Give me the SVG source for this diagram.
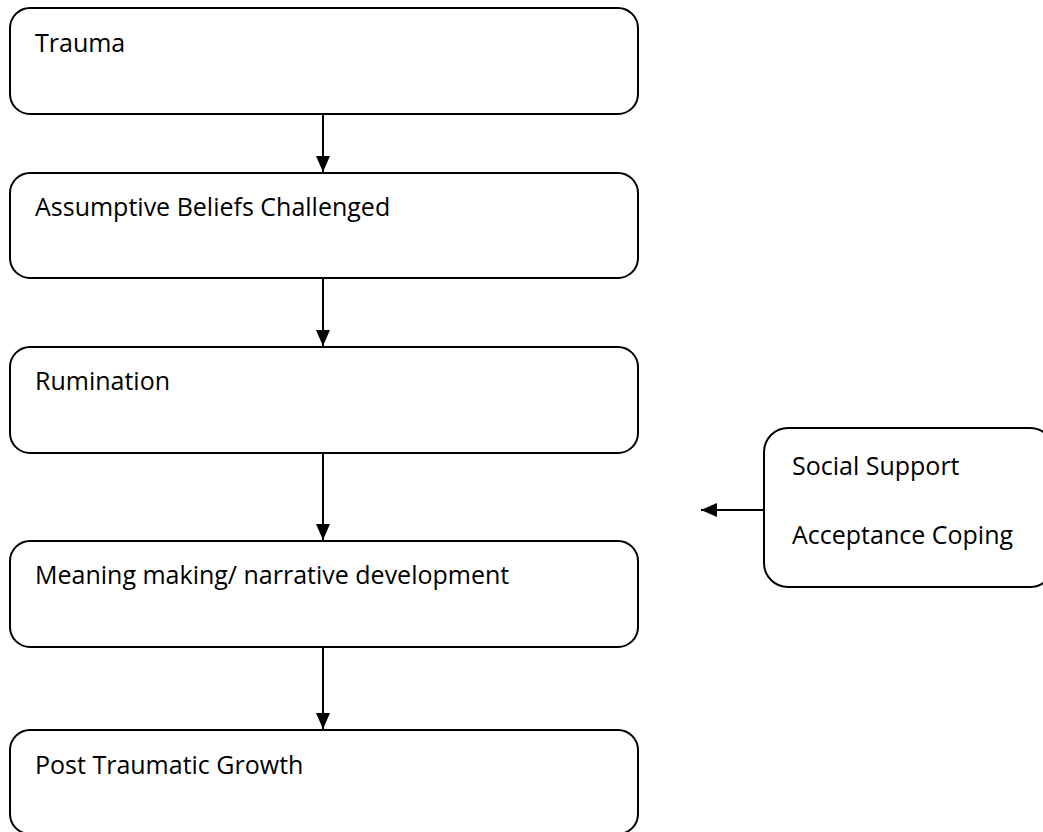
<svg xmlns="http://www.w3.org/2000/svg" width="1043" height="832" viewBox="0 0 1043 832">
<style>
.box{fill:#fff;stroke:#000;stroke-width:2}
.t{font-family:"Open Sans","Liberation Sans",sans-serif;font-size:25px;fill:#000}
.c{stroke:#000;stroke-width:2;fill:none}
</style>
<defs>
<marker id="ah" viewBox="0 0 16 14" refX="16" refY="7" markerWidth="16" markerHeight="14" markerUnits="userSpaceOnUse" orient="auto"><path d="M0,0 L16,7 L0,14 z" fill="#000"/></marker>
</defs>
<rect width="1043" height="832" fill="#fff"/>
<g id="n1"><rect class="box" x="10" y="8" width="628" height="106" rx="20"/><text class="t" x="35" y="52">Trauma</text></g>
<g id="n2"><rect class="box" x="10" y="173" width="628" height="105" rx="20"/><text class="t" x="35" y="216">Assumptive Beliefs Challenged</text></g>
<g id="n3"><rect class="box" x="10" y="347" width="628" height="106" rx="20"/><text class="t" x="35" y="390">Rumination</text></g>
<g id="n4"><rect class="box" x="10" y="541" width="628" height="106" rx="20"/><text class="t" x="35" y="584">Meaning making/ narrative development</text></g>
<g id="n5"><rect class="box" x="10" y="730" width="628" height="104" rx="20"/><text class="t" x="35" y="774">Post Traumatic Growth</text></g>
<g id="n6"><rect class="box" x="764" y="428" width="290" height="159" rx="24"/><text class="t" x="792" y="475">Social Support</text><text class="t" x="792" y="544">Acceptance Coping</text></g>
<g id="connectors">
<line class="c" x1="323" y1="114" x2="323" y2="172" marker-end="url(#ah)"/>
<line class="c" x1="323" y1="278" x2="323" y2="346" marker-end="url(#ah)"/>
<line class="c" x1="323" y1="453" x2="323" y2="540" marker-end="url(#ah)"/>
<line class="c" x1="323" y1="647" x2="323" y2="729" marker-end="url(#ah)"/>
<line class="c" x1="764" y1="510" x2="701" y2="510" marker-end="url(#ah)"/>
</g>
</svg>
